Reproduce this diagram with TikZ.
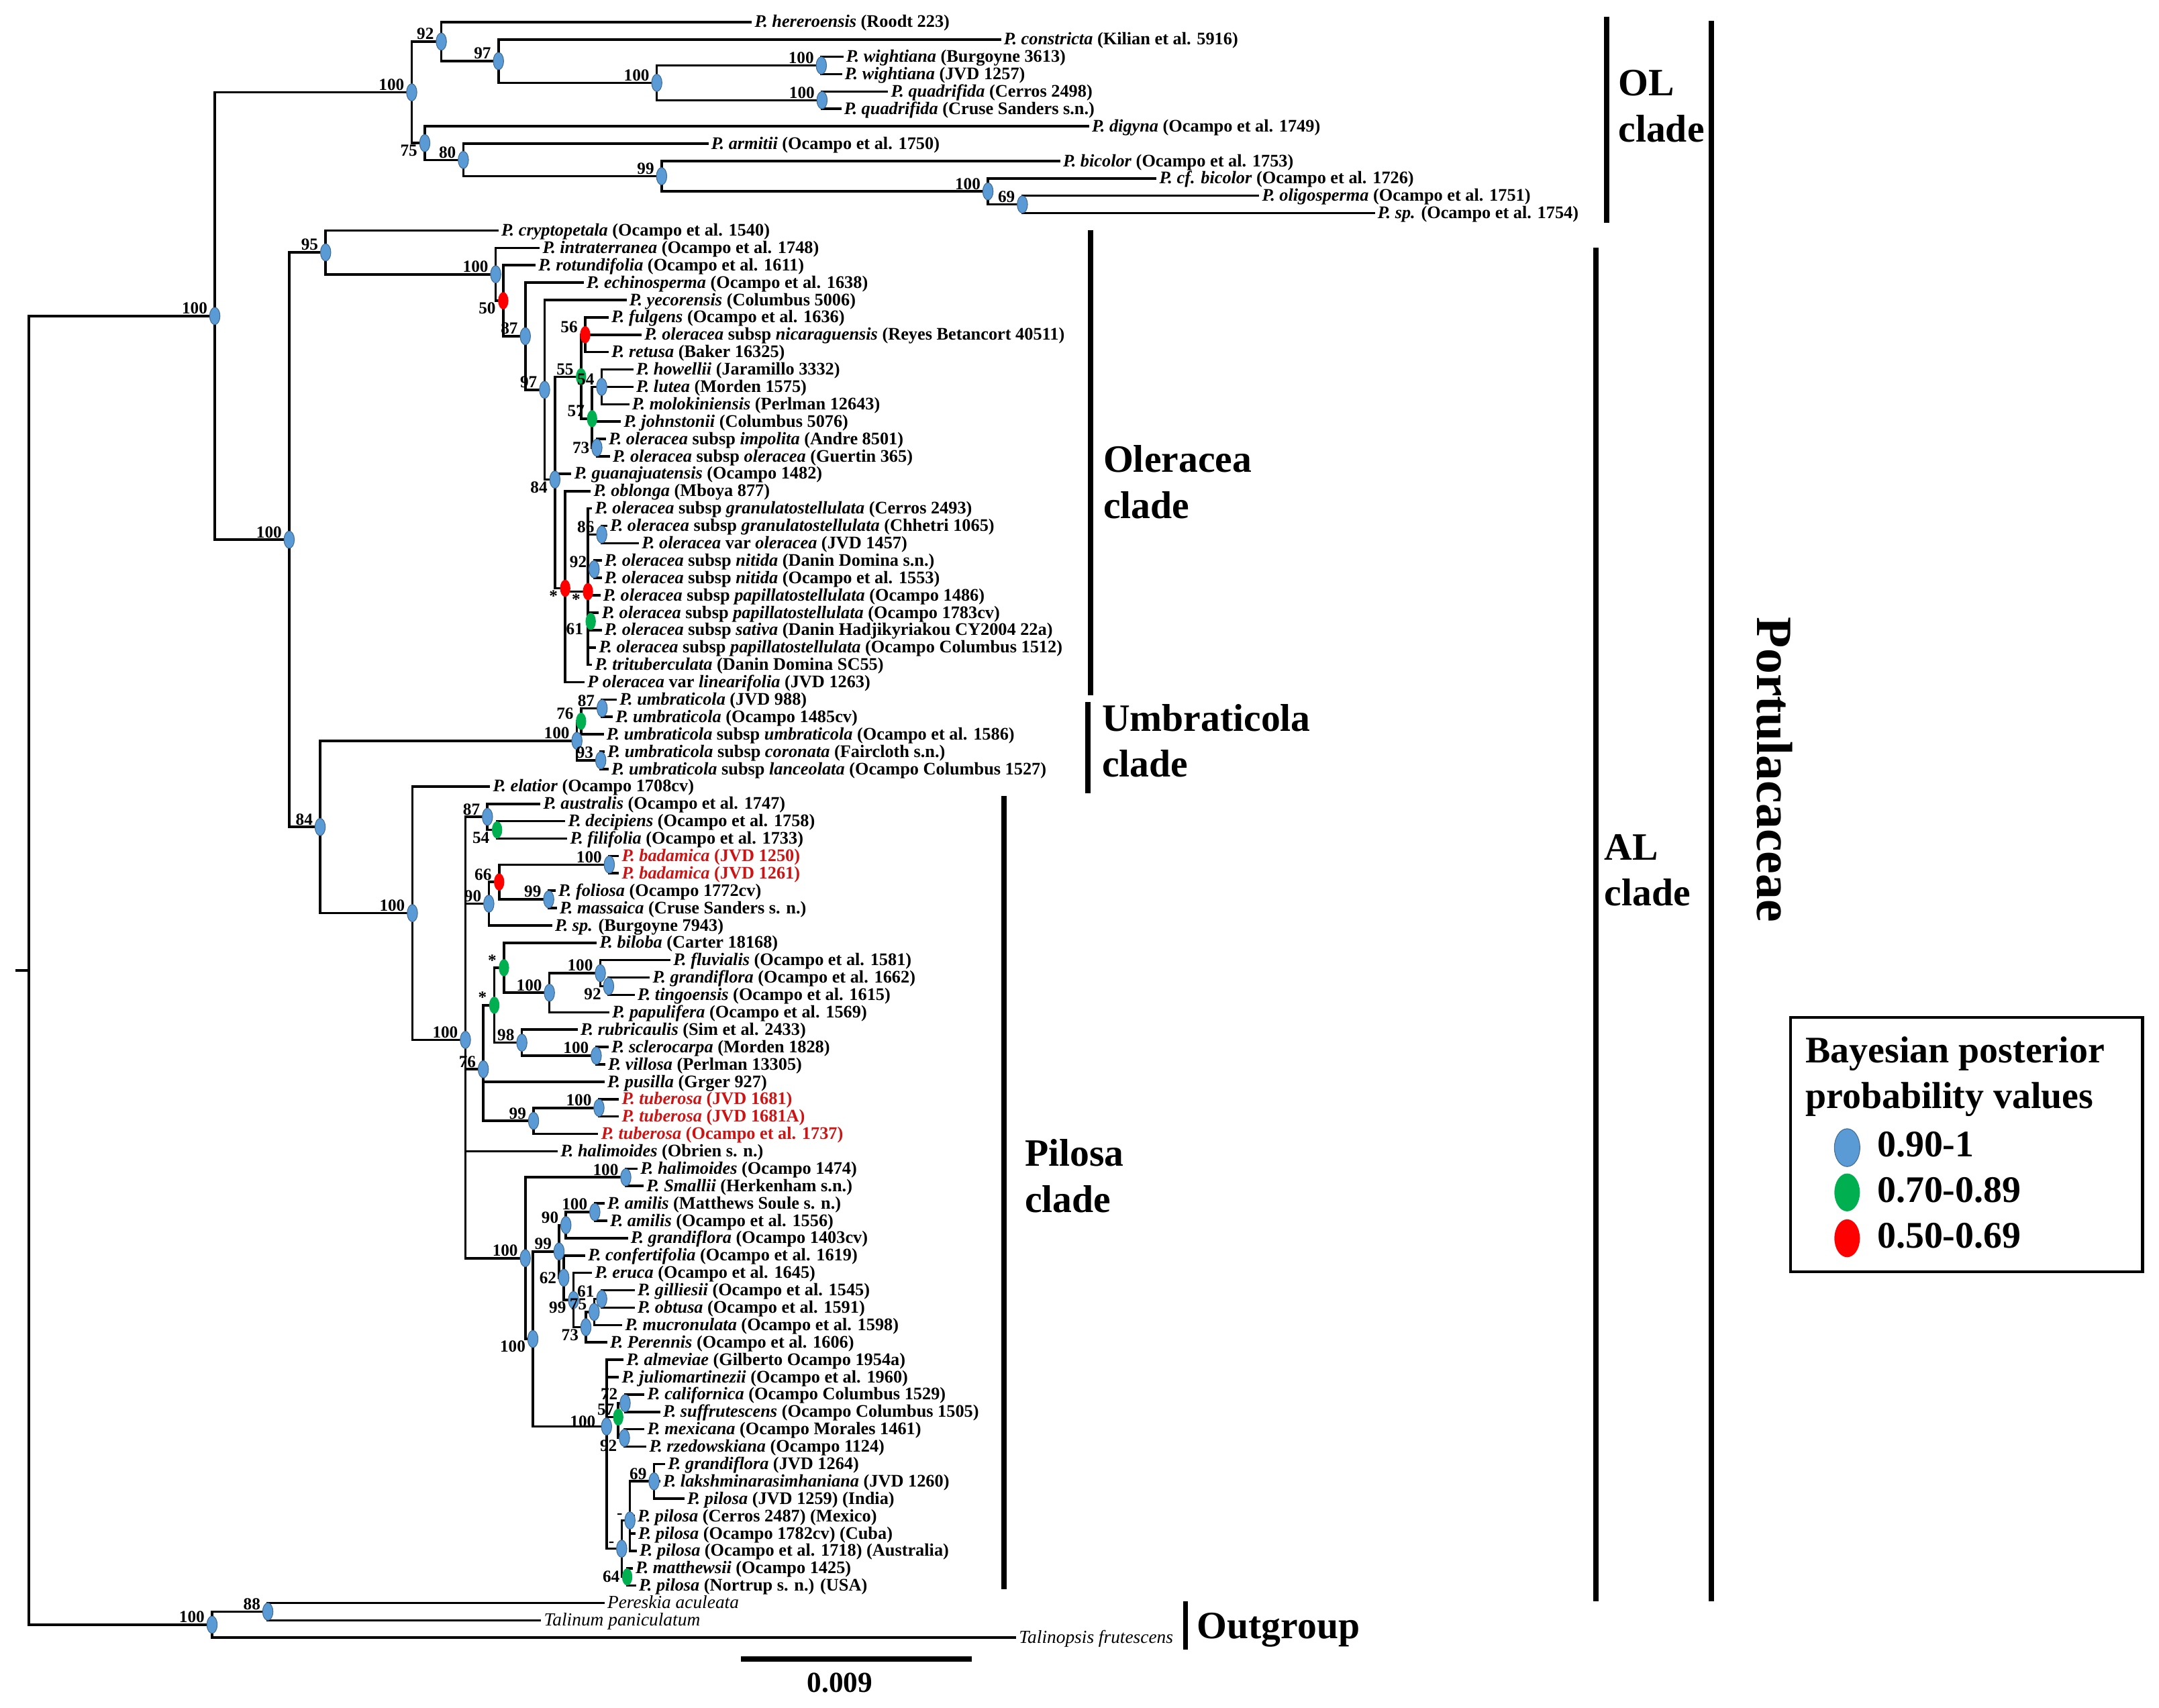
\documentclass[tikz,border=0pt]{standalone}
\usepackage{fontspec}
\setmainfont{Liberation Serif}
\usetikzlibrary{shapes.geometric, backgrounds}

\definecolor{ppblue}{RGB}{91,155,213}
\definecolor{ppgreen}{RGB}{0,176,80}
\definecolor{ppred}{RGB}{255,0,0}
\definecolor{tipred}{RGB}{205,20,20}

\newcommand{\tipfont}{\fontsize{7.3}{8}\selectfont\bfseries}
\newcommand{\supfont}{\fontsize{7}{8}\selectfont\bfseries}
\newcommand{\cladefont}{\fontsize{16}{19}\selectfont\bfseries}
\newcommand{\legfont}{\fontsize{15.5}{19}\selectfont\bfseries}

\tikzset{
	branch/.style={line width=1pt},
	bar/.style={line width=2.2pt},
	pp/.style={ellipse, minimum width=0.15cm, minimum height=0.25cm, inner sep=0pt},
	pphigh/.style={pp, fill=ppblue, draw=ppblue!70!black, line width=0.3pt},
	ppmid/.style={pp, fill=ppgreen},
	pplow/.style={pp, fill=ppred},
	sup/.style={font=\supfont, inner sep=0.6pt},
	supa/.style={label={[sup, anchor=south east]west:#1}},
	supb/.style={label={[sup, anchor=north east]west:#1}},
	supl/.style={label={[sup, anchor=east]west:#1}},
	tip/.style={anchor=west, inner sep=1pt, font=\tipfont, text height=5.5pt, text depth=1pt},
	redtip/.style={tip, text=tipred},
	outtip/.style={tip, font=\fontsize{7.6}{8}\selectfont},
	clade/.style={anchor=west, align=left, font=\cladefont, inner sep=0pt}
}

\begin{document}
\begin{tikzpicture}[x=0.02cm, y=-0.02cm]
	\useasboundingbox (0,0) rectangle (1568,1240);

	% Tree: x in px, y in tip rows
	\begin{scope}[y=-0.2524cm, yshift=-0.32cm]
		\coordinate (root) at (21,54.586);
		\node[pphigh, supa=100] (nIn) at (156,16.922) {};
		\node[pphigh, supa=100] (nOut) at (154,92.25) {};
		\node[pphigh, supa=88] (nO88) at (194.5,91.5) {};

		% OL clade
		\node[pphigh, supa=100] (nOL) at (299,4.047) {};
		\node[pphigh, supa=92] (n92a) at (320.5,1.125) {};
		\node[pphigh, supa=97] (n97a) at (362,2.25) {};
		\node[pphigh, supa=100] (nWQ) at (477,3.5) {};
		\node[pphigh, supa=100] (nWig) at (596.5,2.5) {};
		\node[pphigh, supa=100] (nQua) at (597,4.5) {};
		\node[pphigh, supb=75] (n75a) at (308.5,6.969) {};
		\node[pphigh, supa=80] (n80a) at (336.5,7.938) {};
		\node[pphigh, supa=99] (n99a) at (480.5,8.875) {};
		\node[pphigh, supa=100] (nBic) at (717.5,9.75) {};
		\node[pphigh, supa=69] (n69a) at (742.5,10.5) {};

		% AL clade, Oleracea part
		\node[pphigh, supa=100] (nAL) at (210,29.797) {};
		\node[pphigh, supa=95] (nN95) at (236.5,13.26) {};
		\node[pphigh, supa=100] (nN100) at (360,14.521) {};
		\node[pplow, supb=50] (nN50) at (365.5,16.042) {};
		\node[pphigh, supa=87] (nN87) at (381.5,18.084) {};
		\node[pphigh, supa=97] (nN97) at (395.5,21.169) {};
		\node[pphigh, supb=84] (nN84) at (403,26.337) {};
		\node[ppmid, supa=55] (nN55) at (422,20.417) {};
		\node[pplow, supa=56] (nN56) at (425,18) {};
		\node[ppmid, supa=57] (nN57) at (430,22.833) {};
		\node[pphigh, supa=54] (nN54) at (437,21) {};
		\node[pphigh, supl=73] (nN73) at (433.5,24.5) {};
		\node[pplow, supb=*] (nRedL) at (410.5,32.595) {};
		\node[pplow, supb=*] (nRedR) at (427,32.786) {};
		\node[pphigh, supa=86] (nN86) at (437,29.5) {};
		\node[pphigh, supa=92] (nN92) at (431.5,31.5) {};
		\node[ppmid, supb=61] (nN61) at (429,34.5) {};

		% Umbraticola part
		\node[pphigh, supa=84] (nA84) at (232.5,46.334) {};
		\node[pphigh, supa=100] (nU100) at (419,41.375) {};
		\node[ppmid, supa=76] (nU76) at (422,40.25) {};
		\node[pphigh, supa=87] (nU87) at (437.3,39.5) {};
		\node[pphigh, supa=93] (nU93) at (436.3,42.5) {};

		% Pilosa part
		\node[pphigh, supa=100] (nPL) at (299.5,51.293) {};
		\node[pphigh, supa=100] (nPil) at (338,58.587) {};
		\node[pphigh, supa=87] (nP87) at (354,45.75) {};
		\node[ppmid, supb=54] (nP54) at (361,46.5) {};
		\node[pphigh, supa=90] (nP90) at (355,50.75) {};
		\node[pplow, supa=66] (nP66) at (362.5,49.5) {};
		\node[pphigh, supa=100] (nBad) at (442.5,48.5) {};
		\node[pphigh, supa=99] (nP99f) at (398.5,50.5) {};
		\node[pphigh, supa=76] (nP76) at (351,60.281) {};
		\node[ppmid, supa=*] (nStarL) at (359,56.594) {};
		\node[ppmid, supa=*] (nStarU) at (366,54.438) {};
		\node[pphigh, supa=100] (nP100fg) at (399,55.875) {};
		\node[pphigh, supa=100] (nP100fl) at (436,54.75) {};
		\node[pphigh, supb=92] (nP92g) at (442,55.5) {};
		\node[pphigh, supa=98] (nP98) at (379,58.75) {};
		\node[pphigh, supa=100] (nP100sv) at (433,59.5) {};
		\node[pphigh, supa=99] (nP99t) at (387.5,63.25) {};
		\node[pphigh, supa=100] (nTub) at (435,62.5) {};
		\node[pphigh, supa=100] (nP100c) at (381.5,71.152) {};
		\node[pphigh, supa=100] (nHal) at (454.5,66.5) {};
		\node[pphigh, supb=100] (nP100d) at (387,75.805) {};
		\node[pphigh, supa=99] (nP99u) at (406,70.766) {};
		\node[pphigh, supa=90] (nP90a) at (411,69.25) {};
		\node[pphigh, supa=100] (nAmi) at (432,68.5) {};
		\node[pphigh, supl=62] (nP62) at (409.5,72.281) {};
		\node[pphigh, supb=99] (nP99l) at (416.5,73.563) {};
		\node[pphigh, supb=73] (nP73) at (425.5,75.125) {};
		\node[pphigh, supa=75] (nP75) at (431.5,74.25) {};
		\node[pphigh, supa=61] (nP61) at (437,73.5) {};
		\node[pphigh, label={[sup, anchor=south east, xshift=-1.5pt, yshift=-1pt]west:100}] (nAlm) at (440.5,80.844) {};
		\node[ppmid, label={[sup, anchor=south east, xshift=1.5pt]west:57}] (nP57) at (449,80.3) {};
		\node[pphigh, label={[sup, anchor=south east, yshift=0.8pt]west:72}] (nP72) at (454,79.5) {};
		\node[pphigh, supb=92] (nP92a) at (453.5,81.5) {};
		\node[pphigh, supa=-] (nDashL) at (451.5,87.875) {};
		\node[pphigh, supa=-] (nDashU) at (457.5,86.25) {};
		\node[pphigh, supa=69] (nP69) at (475,84) {};
		\node[ppmid, supl=64] (nP64) at (455.5,89.5) {};

		% tip labels
		\node[tip] (t0) at (546,0) {\textit{P. hereroensis} (Roodt 223)};
		\node[tip] (t1) at (727,1) {\textit{P. constricta} (Kilian et al. 5916)};
		\node[tip] (t2) at (612.5,2) {\textit{P. wightiana} (Burgoyne 3613)};
		\node[tip] (t3) at (611.5,3) {\textit{P. wightiana} (JVD 1257)};
		\node[tip] (t4) at (645,4) {\textit{P. quadrifida} (Cerros 2498)};
		\node[tip] (t5) at (611,5) {\textit{P. quadrifida} (Cruse Sanders s.n.)};
		\node[tip] (t6) at (791,6) {\textit{P. digyna} (Ocampo et al. 1749)};
		\node[tip] (t7) at (514.5,7) {\textit{P. armitii} (Ocampo et al. 1750)};
		\node[tip] (t8) at (770,8) {\textit{P. bicolor} (Ocampo et al. 1753)};
		\node[tip] (t9) at (840,9) {\textit{P. cf. bicolor} (Ocampo et al. 1726)};
		\node[tip] (t10) at (914.5,10) {\textit{P. oligosperma} (Ocampo et al. 1751)};
		\node[tip] (t11) at (998.5,11) {\textit{P. sp.} (Ocampo et al. 1754)};
		\node[tip] (t12) at (362,12) {\textit{P. cryptopetala} (Ocampo et al. 1540)};
		\node[tip] (t13) at (392,13) {\textit{P. intraterranea} (Ocampo et al. 1748)};
		\node[tip] (t14) at (389,14) {\textit{P. rotundifolia} (Ocampo et al. 1611)};
		\node[tip] (t15) at (424,15) {\textit{P. echinosperma} (Ocampo et al. 1638)};
		\node[tip] (t16) at (455,16) {\textit{P. yecorensis} (Columbus 5006)};
		\node[tip] (t17) at (442,17) {\textit{P. fulgens} (Ocampo et al. 1636)};
		\node[tip] (t18) at (466,18) {\textit{P. oleracea} subsp \textit{nicaraguensis} (Reyes Betancort 40511)};
		\node[tip] (t19) at (442,19) {\textit{P. retusa} (Baker 16325)};
		\node[tip] (t20) at (460,20) {\textit{P. howellii} (Jaramillo 3332)};
		\node[tip] (t21) at (460,21) {\textit{P. lutea} (Morden 1575)};
		\node[tip] (t22) at (457,22) {\textit{P. molokiniensis} (Perlman 12643)};
		\node[tip] (t23) at (451,23) {\textit{P. johnstonii} (Columbus 5076)};
		\node[tip] (t24) at (440,24) {\textit{P. oleracea} subsp \textit{impolita} (Andre 8501)};
		\node[tip] (t25) at (443,25) {\textit{P. oleracea} subsp \textit{oleracea} (Guertin 365)};
		\node[tip] (t26) at (415,26) {\textit{P. guanajuatensis} (Ocampo 1482)};
		\node[tip] (t27) at (429,27) {\textit{P. oblonga} (Mboya 877)};
		\node[tip] (t28) at (430,28) {\textit{P. oleracea} subsp \textit{granulatostellulata} (Cerros 2493)};
		\node[tip] (t29) at (441,29) {\textit{P. oleracea} subsp \textit{granulatostellulata} (Chhetri 1065)};
		\node[tip] (t30) at (464,30) {\textit{P. oleracea} var \textit{oleracea} (JVD 1457)};
		\node[tip] (t31) at (437,31) {\textit{P. oleracea} subsp \textit{nitida} (Danin Domina s.n.)};
		\node[tip] (t32) at (437,32) {\textit{P. oleracea} subsp \textit{nitida} (Ocampo et al. 1553)};
		\node[tip] (t33) at (436,33) {\textit{P. oleracea} subsp \textit{papillatostellulata} (Ocampo 1486)};
		\node[tip] (t34) at (435,34) {\textit{P. oleracea} subsp \textit{papillatostellulata} (Ocampo 1783cv)};
		\node[tip] (t35) at (437,35) {\textit{P. oleracea} subsp \textit{sativa} (Danin Hadjikyriakou CY2004 22a)};
		\node[tip] (t36) at (433,36) {\textit{P. oleracea} subsp \textit{papillatostellulata} (Ocampo Columbus 1512)};
		\node[tip] (t37) at (430,37) {\textit{P. trituberculata} (Danin Domina SC55)};
		\node[tip] (t38) at (424.5,38) {\textit{P oleracea} var \textit{linearifolia} (JVD 1263)};
		\node[tip] (t39) at (448,39) {\textit{P. umbraticola} (JVD 988)};
		\node[tip] (t40) at (445,40) {\textit{P. umbraticola} (Ocampo 1485cv)};
		\node[tip] (t41) at (438.5,41) {\textit{P. umbraticola} subsp \textit{umbraticola} (Ocampo et al. 1586)};
		\node[tip] (t42) at (439,42) {\textit{P. umbraticola} subsp \textit{coronata} (Faircloth s.n.)};
		\node[tip] (t43) at (442,43) {\textit{P. umbraticola} subsp \textit{lanceolata} (Ocampo Columbus 1527)};
		\node[tip] (t44) at (356,44) {\textit{P. elatior} (Ocampo 1708cv)};
		\node[tip] (t45) at (392.5,45) {\textit{P. australis} (Ocampo et al. 1747)};
		\node[tip] (t46) at (410.5,46) {\textit{P. decipiens} (Ocampo et al. 1758)};
		\node[tip] (t47) at (412,47) {\textit{P. filifolia} (Ocampo et al. 1733)};
		\node[redtip] (t48) at (449.5,48) {\textit{P. badamica} (JVD 1250)};
		\node[redtip] (t49) at (449.5,49) {\textit{P. badamica} (JVD 1261)};
		\node[tip] (t50) at (403.5,50) {\textit{P. foliosa} (Ocampo 1772cv)};
		\node[tip] (t51) at (404.5,51) {\textit{P. massaica} (Cruse Sanders s. n.)};
		\node[tip] (t52) at (401,52) {\textit{P. sp.} (Burgoyne 7943)};
		\node[tip] (t53) at (433.5,53) {\textit{P. biloba} (Carter 18168)};
		\node[tip] (t54) at (487,54) {\textit{P. fluvialis} (Ocampo et al. 1581)};
		\node[tip] (t55) at (472,55) {\textit{P. grandiflora} (Ocampo et al. 1662)};
		\node[tip] (t56) at (461,56) {\textit{P. tingoensis} (Ocampo et al. 1615)};
		\node[tip] (t57) at (442.5,57) {\textit{P. papulifera} (Ocampo et al. 1569)};
		\node[tip] (t58) at (419.5,58) {\textit{P. rubricaulis} (Sim et al. 2433)};
		\node[tip] (t59) at (442,59) {\textit{P. sclerocarpa} (Morden 1828)};
		\node[tip] (t60) at (439.5,60) {\textit{P. villosa} (Perlman 13305)};
		\node[tip] (t61) at (439,61) {\textit{P. pusilla} (Grger 927)};
		\node[redtip] (t62) at (449.5,62) {\textit{P. tuberosa} (JVD 1681)};
		\node[redtip] (t63) at (449.5,63) {\textit{P. tuberosa} (JVD 1681A)};
		\node[redtip] (t64) at (434.5,64) {\textit{P. tuberosa} (Ocampo et al. 1737)};
		\node[tip] (t65) at (405,65) {\textit{P. halimoides} (Obrien s. n.)};
		\node[tip] (t66) at (463,66) {\textit{P. halimoides} (Ocampo 1474)};
		\node[tip] (t67) at (467.5,67) {\textit{P. Smallii} (Herkenham s.n.)};
		\node[tip] (t68) at (439,68) {\textit{P. amilis} (Matthews Soule s. n.)};
		\node[tip] (t69) at (441,69) {\textit{P. amilis} (Ocampo et al. 1556)};
		\node[tip] (t70) at (456,70) {\textit{P. grandiflora} (Ocampo 1403cv)};
		\node[tip] (t71) at (425,71) {\textit{P. confertifolia} (Ocampo et al. 1619)};
		\node[tip] (t72) at (430,72) {\textit{P. eruca} (Ocampo et al. 1645)};
		\node[tip] (t73) at (461,73) {\textit{P. gilliesii} (Ocampo et al. 1545)};
		\node[tip] (t74) at (461,74) {\textit{P. obtusa} (Ocampo et al. 1591)};
		\node[tip] (t75) at (452,75) {\textit{P. mucronulata} (Ocampo et al. 1598)};
		\node[tip] (t76) at (441,76) {\textit{P. Perennis} (Ocampo et al. 1606)};
		\node[tip] (t77) at (453,77) {\textit{P. almeviae} (Gilberto Ocampo 1954a)};
		\node[tip] (t78) at (449.5,78) {\textit{P. juliomartinezii} (Ocampo et al. 1960)};
		\node[tip] (t79) at (468,79) {\textit{P. californica} (Ocampo Columbus 1529)};
		\node[tip] (t80) at (479.5,80) {\textit{P. suffrutescens} (Ocampo Columbus 1505)};
		\node[tip] (t81) at (468,81) {\textit{P. mexicana} (Ocampo Morales 1461)};
		\node[tip] (t82) at (469.5,82) {\textit{P. rzedowskiana} (Ocampo 1124)};
		\node[tip] (t83) at (483,83) {\textit{P. grandiflora} (JVD 1264)};
		\node[tip] (t84) at (479.5,84) {\textit{P. lakshminarasimhaniana} (JVD 1260)};
		\node[tip] (t85) at (497,85) {\textit{P. pilosa} (JVD 1259) (India)};
		\node[tip] (t86) at (461,86) {\textit{P. pilosa} (Cerros 2487) (Mexico)};
		\node[tip] (t87) at (461.5,87) {\textit{P. pilosa} (Ocampo 1782cv) (Cuba)};
		\node[tip] (t88) at (462.5,88) {\textit{P. pilosa} (Ocampo et al. 1718) (Australia)};
		\node[tip] (t89) at (459.5,89) {\textit{P. matthewsii} (Ocampo 1425)};
		\node[tip] (t90) at (462,90) {\textit{P. pilosa} (Nortrup s. n.) (USA)};
		\node[outtip] (t91) at (439,91) {\textit{Pereskia aculeata}};
		\node[outtip] (t92) at (393,92) {\textit{Talinum paniculatum}};
		\node[outtip] (t93) at (738,93) {\textit{Talinopsis frutescens}};

		% branches, behind the node marks
		\begin{scope}[on background layer]
			\draw[branch] (root) -- ++(-10,0);
			\draw[branch] (root) |- (nIn.center) (root) |- (nOut.center);
			\draw[branch] (nIn.center) |- (nOL.center) (nIn.center) |- (nAL.center);
			\draw[branch] (nOut.center) |- (nO88.center) (nOut.center) |- (t93.west);
			\draw[branch] (nO88.center) |- (t91.west) (nO88.center) |- (t92.west);
			% OL
			\draw[branch] (nOL.center) |- (n92a.center) (nOL.center) |- (n75a.center);
			\draw[branch] (n92a.center) |- (t0.west) (n92a.center) |- (n97a.center);
			\draw[branch] (n97a.center) |- (t1.west) (n97a.center) |- (nWQ.center);
			\draw[branch] (nWQ.center) |- (nWig.center) (nWQ.center) |- (nQua.center);
			\draw[branch] (nWig.center) |- (t2.west) (nWig.center) |- (t3.west);
			\draw[branch] (nQua.center) |- (t4.west) (nQua.center) |- (t5.west);
			\draw[branch] (n75a.center) |- (t6.west) (n75a.center) |- (n80a.center);
			\draw[branch] (n80a.center) |- (t7.west) (n80a.center) |- (n99a.center);
			\draw[branch] (n99a.center) |- (t8.west) (n99a.center) |- (nBic.center);
			\draw[branch] (nBic.center) |- (t9.west) (nBic.center) |- (n69a.center);
			\draw[branch] (n69a.center) |- (t10.west) (n69a.center) |- (t11.west);
			% AL, Oleracea
			\draw[branch] (nAL.center) |- (nN95.center) (nAL.center) |- (nA84.center);
			\draw[branch] (nN95.center) |- (t12.west) (nN95.center) |- (nN100.center);
			\draw[branch] (nN100.center) |- (t13.west) (nN100.center) |- (nN50.center);
			\draw[branch] (nN50.center) |- (t14.west) (nN50.center) |- (nN87.center);
			\draw[branch] (nN87.center) |- (t15.west) (nN87.center) |- (nN97.center);
			\draw[branch] (nN97.center) |- (t16.west) (nN97.center) |- (nN84.center);
			\draw[branch] (nN84.center) |- (nN55.center) (nN84.center) |- (t26.west) (nN84.center) |- (nRedL.center);
			\draw[branch] (nN55.center) |- (nN56.center) (nN55.center) |- (nN57.center);
			\draw[branch] (nN56.center) |- (t17.west) (nN56.center) |- (t18.west) (nN56.center) |- (t19.west);
			\draw[branch] (nN57.center) |- (nN54.center) (nN57.center) |- (t23.west) (nN57.center) |- (nN73.center);
			\draw[branch] (nN54.center) |- (t20.west) (nN54.center) |- (t21.west) (nN54.center) |- (t22.west);
			\draw[branch] (nN73.center) |- (t24.west) (nN73.center) |- (t25.west);
			\draw[branch] (nRedL.center) |- (t27.west) (nRedL.center) |- (nRedR.center) (nRedL.center) |- (t38.west);
			\draw[branch] (nRedR.center) |- (t28.west) (nRedR.center) |- (nN86.center) (nRedR.center) |- (nN92.center)
				(nRedR.center) |- (t33.west) (nRedR.center) |- (nN61.center) (nRedR.center) |- (t36.west) (nRedR.center) |- (t37.west);
			\draw[branch] (nN86.center) |- (t29.west) (nN86.center) |- (t30.west);
			\draw[branch] (nN92.center) |- (t31.west) (nN92.center) |- (t32.west);
			\draw[branch] (nN61.center) |- (t34.west) (nN61.center) |- (t35.west);
			% Umbraticola
			\draw[branch] (nA84.center) |- (nU100.center) (nA84.center) |- (nPL.center);
			\draw[branch] (nU100.center) |- (nU76.center) (nU100.center) |- (nU93.center);
			\draw[branch] (nU76.center) |- (nU87.center) (nU76.center) |- (t41.west);
			\draw[branch] (nU87.center) |- (t39.west) (nU87.center) |- (t40.west);
			\draw[branch] (nU93.center) |- (t42.west) (nU93.center) |- (t43.west);
			% Pilosa
			\draw[branch] (nPL.center) |- (t44.west) (nPL.center) |- (nPil.center);
			\draw[branch] (nPil.center) |- (nP87.center) (nPil.center) |- (nP90.center) (nPil.center) |- (nP76.center)
				(nPil.center) |- (t65.west) (nPil.center) |- (nP100c.center);
			\draw[branch] (nP87.center) |- (t45.west) (nP87.center) |- (nP54.center);
			\draw[branch] (nP54.center) |- (t46.west) (nP54.center) |- (t47.west);
			\draw[branch] (nP90.center) |- (nP66.center) (nP90.center) |- (t52.west);
			\draw[branch] (nP66.center) |- (nBad.center) (nP66.center) |- (nP99f.center);
			\draw[branch] (nBad.center) |- (t48.west) (nBad.center) |- (t49.west);
			\draw[branch] (nP99f.center) |- (t50.west) (nP99f.center) |- (t51.west);
			\draw[branch] (nP76.center) |- (nStarL.center) (nP76.center) |- (t61.west) (nP76.center) |- (nP99t.center);
			\draw[branch] (nStarL.center) |- (nStarU.center) (nStarL.center) |- (nP98.center);
			\draw[branch] (nStarU.center) |- (t53.west) (nStarU.center) |- (nP100fg.center);
			\draw[branch] (nP100fg.center) |- (nP100fl.center) (nP100fg.center) |- (t57.west);
			\draw[branch] (nP100fl.center) |- (t54.west) (nP100fl.center) |- (nP92g.center);
			\draw[branch] (nP92g.center) |- (t55.west) (nP92g.center) |- (t56.west);
			\draw[branch] (nP98.center) |- (t58.west) (nP98.center) |- (nP100sv.center);
			\draw[branch] (nP100sv.center) |- (t59.west) (nP100sv.center) |- (t60.west);
			\draw[branch] (nP99t.center) |- (nTub.center) (nP99t.center) |- (t64.west);
			\draw[branch] (nTub.center) |- (t62.west) (nTub.center) |- (t63.west);
			\draw[branch] (nP100c.center) |- (nHal.center) (nP100c.center) |- (nP100d.center);
			\draw[branch] (nHal.center) |- (t66.west) (nHal.center) |- (t67.west);
			\draw[branch] (nP100d.center) |- (nP99u.center) (nP100d.center) |- (nAlm.center);
			\draw[branch] (nP99u.center) |- (nP90a.center) (nP99u.center) |- (nP62.center);
			\draw[branch] (nP90a.center) |- (nAmi.center) (nP90a.center) |- (t70.west);
			\draw[branch] (nAmi.center) |- (t68.west) (nAmi.center) |- (t69.west);
			\draw[branch] (nP62.center) |- (t71.west) (nP62.center) |- (nP99l.center);
			\draw[branch] (nP99l.center) |- (t72.west) (nP99l.center) |- (nP73.center);
			\draw[branch] (nP73.center) |- (nP75.center) (nP73.center) |- (t76.west);
			\draw[branch] (nP75.center) |- (nP61.center) (nP75.center) |- (t75.west);
			\draw[branch] (nP61.center) |- (t73.west) (nP61.center) |- (t74.west);
			\draw[branch] (nAlm.center) |- (t77.west) (nAlm.center) |- (t78.west) (nAlm.center) |- (nP57.center) (nAlm.center) |- (nDashL.center);
			\draw[branch] (nP57.center) |- (nP72.center) (nP57.center) |- (nP92a.center);
			\draw[branch] (nP72.center) |- (t79.west) (nP72.center) |- (t80.west);
			\draw[branch] (nP92a.center) |- (t81.west) (nP92a.center) |- (t82.west);
			\draw[branch] (nDashL.center) |- (nDashU.center) (nDashL.center) |- (nP64.center);
			\draw[branch] (nDashU.center) |- (nP69.center) (nDashU.center) |- (t86.west) (nDashU.center) |- (t87.west) (nDashU.center) |- (t88.west);
			\draw[branch] (nP69.center) |- (t83.west) (nP69.center) |- (t84.west) (nP69.center) |- (t85.west);
			\draw[branch] (nP64.center) |- (t89.west) (nP64.center) |- (t90.west);
		\end{scope}
	\end{scope}

	% Clade bars and names
	\draw[bar] (1167,12) -- (1167,162);
	\node[clade] (lOL) at (1175,77) {OL\\clade};
	\draw[bar] (792,167) -- (792,505);
	\node[clade] (lOle) at (801,350) {Oleracea\\clade};
	\draw[bar] (790,510) -- (790,576);
	\node[clade] (lUmb) at (800,538) {Umbraticola\\clade};
	\draw[bar] (729,578) -- (729,1154);
	\node[clade] (lPil) at (744,854) {Pilosa\\clade};
	\draw[bar] (1159,180) -- (1159,1163);
	\node[clade] (lAL) at (1165,632) {AL\\clade};
	\draw[bar] (1243,15) -- (1243,1163);
	\node[rotate=-90, font=\fontsize{21}{25}\selectfont\bfseries] (lPor) at (1289,559) {Portulacaceae};
	\draw[bar] (861,1163) -- (861,1198);
	\node[anchor=base west, font=\cladefont, inner sep=0pt] (lOut) at (869,1190) {Outgroup};

	% Scale bar
	\draw[line width=2.3pt] (538,1205) -- (706,1205);
	\node[anchor=base, font=\fontsize{12}{14}\selectfont\bfseries] (lScale) at (610,1229) {0.009};

	% Legend
	\draw[line width=1.2pt] (1300.5,739) rectangle (1556,923.5);
	\node[anchor=base west, font=\legfont, inner sep=0pt] (lg1) at (1311,771.7) {Bayesian posterior};
	\node[anchor=base west, font=\legfont, inner sep=0pt] (lg2) at (1311,805) {probability values};
	\node[pphigh, minimum width=0.37cm, minimum height=0.55cm] (k1) at (1341.5,833.5) {};
	\node[ppmid, minimum width=0.37cm, minimum height=0.55cm] (k2) at (1341.5,866) {};
	\node[pplow, minimum width=0.37cm, minimum height=0.55cm] (k3) at (1341.5,899.3) {};
	\node[anchor=base west, font=\legfont, inner sep=0pt] (kt1) at (1363,839.8) {0.90-1};
	\node[anchor=base west, font=\legfont, inner sep=0pt] (kt2) at (1363,873) {0.70-0.89};
	\node[anchor=base west, font=\legfont, inner sep=0pt] (kt3) at (1363,906.5) {0.50-0.69};
\end{tikzpicture}
\end{document}
